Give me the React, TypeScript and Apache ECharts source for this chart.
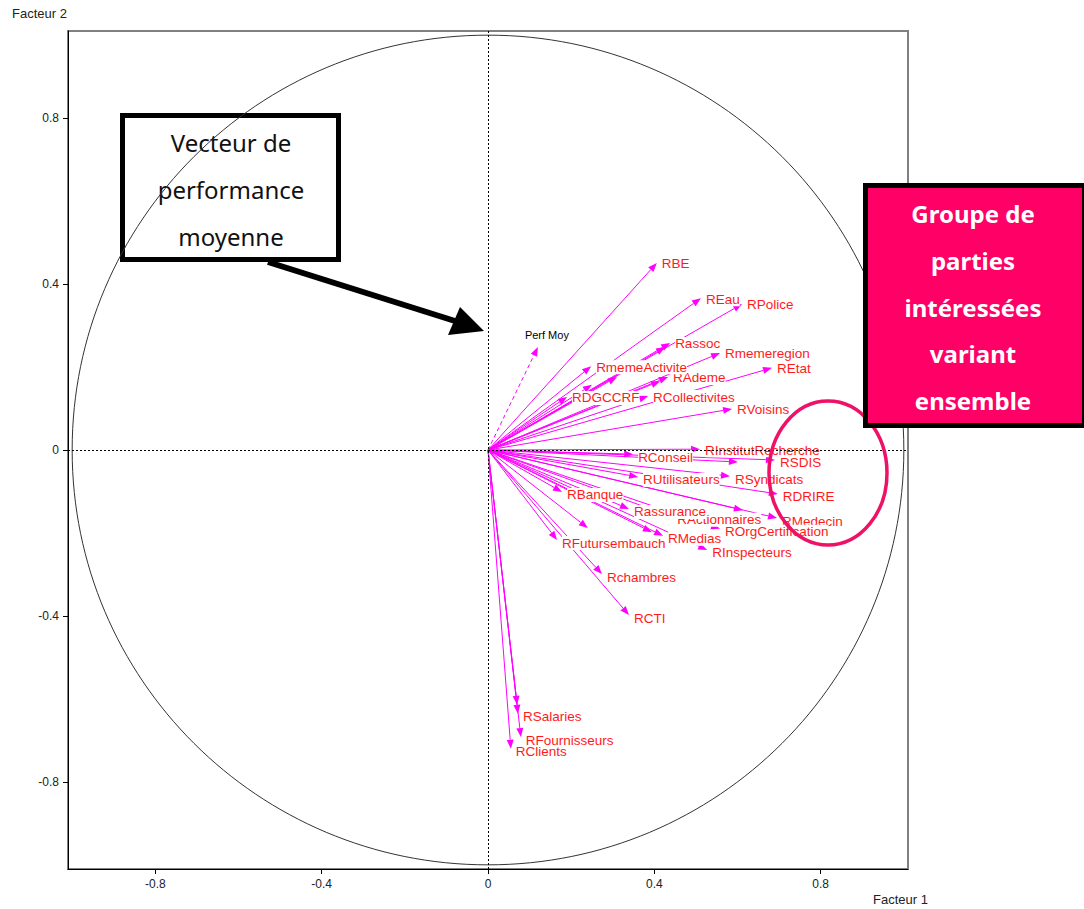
import React, { useEffect, useRef } from "react";
import * as echarts from "echarts";

// ---- data ----
const vectorNames = [
  "RBE", "REau", "RPolice", "Rassoc", "Rmemeregion", "REtat", "RAdeme", "RmemeActivite",
  "RCollectivites", "RDGCCRF", "RVoisins", "RConseil", "RInstitutRecherche", "RSDIS",
  "RUtilisateurs", "RSyndicats", "RDRIRE", "RBanque", "RActionnaires", "Rassurance",
  "RMedecin", "ROrgCertification", "RMedias", "RInspecteurs", "RFutursembauch",
  "Rchambres", "RCTI", "RClients", "RSalaries", "RFournisseurs",
];
const vectorX = [
  0.406, 0.512, 0.611, 0.438, 0.558, 0.683, 0.433, 0.248,
  0.385, 0.19, 0.587, 0.349, 0.51, 0.69,
  0.361, 0.582, 0.697, 0.178, 0.443, 0.339,
  0.695, 0.558, 0.421, 0.527, 0.166,
  0.274, 0.339, 0.055, 0.072, 0.079,
];
const vectorY = [
  0.451, 0.366, 0.352, 0.258, 0.234, 0.198, 0.176, 0.202,
  0.13, 0.128, 0.099, -0.01, 0.002, -0.024,
  -0.065, -0.063, -0.106, -0.101, -0.161, -0.142,
  -0.164, -0.19, -0.207, -0.241, -0.217,
  -0.299, -0.398, -0.72, -0.636, -0.692,
];
// vectors whose labels are hidden under other labels
const hiddenX = [0.31, 0.25, 0.426, 0.414, 0.601, 0.24, 0.07, 0.613, 0.394];
const hiddenY = [0.176, 0.157, 0.248, 0.166, -0.029, -0.188, -0.614, -0.145, -0.198];

const perfName = "Perf Moy";
const perfX = [0.12];
const perfY = [0.248];

const unitCircle = [1];
const tickValues = [-0.8, -0.4, 0, 0.4, 0.8];
const axisMin = -1.01;
const axisMax = 1.01;

const boxLeftLines = ["Vecteur de", "performance", "moyenne"];
const boxRightLines = ["Groupe de", "parties", "intéressées", "variant", "ensemble"];

// ---- styles ----
const MAGENTA = "#ff00ff";
const LABEL_RED = "#ff1a1a";
const LABEL_FONT = '13.5px "Liberation Sans", Arial, sans-serif';

function arrowShape(api: any, x: number, y: number, color: string, dashed: boolean) {
  const o = api.coord([0, 0]);
  const t = api.coord([x, y]);
  const dx = t[0] - o[0];
  const dy = t[1] - o[1];
  const len = Math.hypot(dx, dy) || 1;
  const ux = dx / len;
  const uy = dy / len;
  const hl = 9;
  const hw = 3.5;
  const bx = t[0] - ux * hl;
  const by = t[1] - uy * hl;
  return {
    type: "group",
    children: [
      {
        type: "line",
        shape: { x1: o[0], y1: o[1], x2: bx, y2: by },
        style: { stroke: color, lineWidth: 1, lineDash: dashed ? [4, 3] : null },
      },
      {
        type: "polygon",
        shape: {
          points: [
            [t[0], t[1]],
            [bx - uy * hw, by + ux * hw],
            [bx + uy * hw, by - ux * hw],
          ],
        },
        style: { fill: color },
      },
    ],
  };
}

export default function App() {
  const ref = useRef<HTMLDivElement>(null);

  useEffect(() => {
    if (!ref.current) return;
    const chart = echarts.init(ref.current, null, { renderer: "svg" });

    const allX = vectorX.concat(hiddenX);
    const allY = vectorY.concat(hiddenY);

    const axisCommon = {
      type: "value",
      min: axisMin,
      max: axisMax,
      splitLine: { show: false },
      axisLine: { show: true, onZero: false, lineStyle: { color: "#000", width: 1 } },
      axisTick: { show: true, length: 5, customValues: tickValues, lineStyle: { color: "#000" } },
      axisLabel: {
        customValues: tickValues,
        margin: 9,
        color: "#222",
        fontSize: 12,
        fontFamily: '"Liberation Sans", Arial, sans-serif',
        formatter: (v: number) => (Math.abs(v) < 1e-9 ? "0" : String(v)),
      },
    };

    const option: any = {
      animation: false,
      backgroundColor: "#fff",
      grid: {
        left: 68,
        right: 176,
        top: 31,
        bottom: 40,
        show: true,
        borderColor: "#808080",
        borderWidth: 2,
        backgroundColor: "transparent",
      },
      xAxis: { ...axisCommon },
      yAxis: { ...axisCommon },
      series: [
        {
          type: "custom",
          name: "circle",
          z: 2,
          data: unitCircle.map((r) => [0, 0, r]),
          renderItem: (params: any, api: any) => {
            const c = api.coord([0, 0]);
            const r = api.value(2);
            const s = api.size([r, r]);
            return {
              type: "ellipse",
              shape: { cx: c[0], cy: c[1], rx: s[0], ry: s[1] },
              style: { fill: "none", stroke: "#333", lineWidth: 1 },
            };
          },
        },
        {
          type: "scatter",
          name: "axes0",
          data: [],
          markLine: {
            silent: true,
            symbol: "none",
            label: { show: false },
            lineStyle: { color: "#000", type: [2, 2], width: 1 },
            data: [{ xAxis: 0 }, { yAxis: 0 }],
          },
        },
        {
          type: "custom",
          name: "vectors",
          z: 3,
          data: allX.map((x, i) => [x, allY[i]]),
          renderItem: (params: any, api: any) =>
            arrowShape(api, allX[params.dataIndex], allY[params.dataIndex], MAGENTA, false),
        },
        {
          type: "custom",
          name: "perf",
          z: 3,
          data: perfX.map((x, i) => [x, perfY[i]]),
          renderItem: (params: any, api: any) => {
            const x = perfX[params.dataIndex];
            const y = perfY[params.dataIndex];
            const t = api.coord([x, y]);
            const g: any = arrowShape(api, x, y, MAGENTA, true);
            g.children.push({
              type: "text",
              style: {
                text: perfName,
                x: t[0] + 9,
                y: t[1] - 12,
                align: "center",
                verticalAlign: "middle",
                fill: "#000",
                font: '11px "Liberation Sans", Arial, sans-serif',
              },
            });
            return g;
          },
        },
        {
          type: "custom",
          name: "labels",
          z: 4,
          data: vectorX.map((x, i) => [x, vectorY[i]]),
          renderItem: (params: any, api: any) => {
            const i = params.dataIndex;
            const t = api.coord([vectorX[i], vectorY[i]]);
            return {
              type: "text",
              style: {
                text: vectorNames[i],
                x: t[0] + 5,
                y: t[1] + (vectorY[i] >= 0 ? 1 : 3),
                align: "left",
                verticalAlign: "middle",
                fill: LABEL_RED,
                font: LABEL_FONT,
                backgroundColor: "#fff",
              },
            };
          },
        },
      ],
      graphic: [
        {
          type: "text",
          left: 12,
          top: 7,
          style: { text: "Facteur 2", fill: "#222", font: '13px "Liberation Sans", Arial, sans-serif' },
        },
        {
          type: "text",
          left: 873,
          top: 893,
          style: { text: "Facteur 1", fill: "#222", font: '13px "Liberation Sans", Arial, sans-serif' },
        },
        {
          type: "rect",
          z: 1,
          shape: { x: 122.5, y: 115.5, width: 216, height: 144 },
          style: { fill: "#fff", stroke: "#000", lineWidth: 5 },
        },
        {
          type: "text",
          z: 1,
          style: {
            text: boxLeftLines.join("\n"),
            x: 231,
            y: 189,
            align: "center",
            verticalAlign: "middle",
            lineHeight: 47,
            fill: "#111",
            font: '24px "Noto Sans", sans-serif',
          },
        },
        {
          type: "line",
          z: 100,
          shape: { x1: 268, y1: 262, x2: 455, y2: 321 },
          style: { stroke: "#000", lineWidth: 6 },
        },
        {
          type: "polygon",
          z: 100,
          shape: { points: [[484, 331], [448, 335], [460, 307]] },
          style: { fill: "#000" },
        },
        {
          type: "ellipse",
          z: 100,
          shape: { cx: 828, cy: 473, rx: 59, ry: 72 },
          style: { fill: "none", stroke: "#ee1166", lineWidth: 3.5 },
        },
        {
          type: "rect",
          z: 100,
          shape: { x: 865.5, y: 185.5, width: 219, height: 240 },
          style: { fill: "#ff0066", stroke: "#000", lineWidth: 5 },
        },
        {
          type: "text",
          z: 101,
          style: {
            text: boxRightLines.join("\n"),
            x: 973,
            y: 307,
            align: "center",
            verticalAlign: "middle",
            lineHeight: 46.7,
            fill: "#fff",
            font: 'bold 24px "Noto Sans", sans-serif',
          },
        },
      ],
    };

    chart.setOption(option);
    return () => chart.dispose();
  }, []);

  return (
    <div
      ref={ref}
      style={{ position: "fixed", left: 0, top: 0, width: 1084, height: 909, background: "#fff" }}
    />
  );
}
